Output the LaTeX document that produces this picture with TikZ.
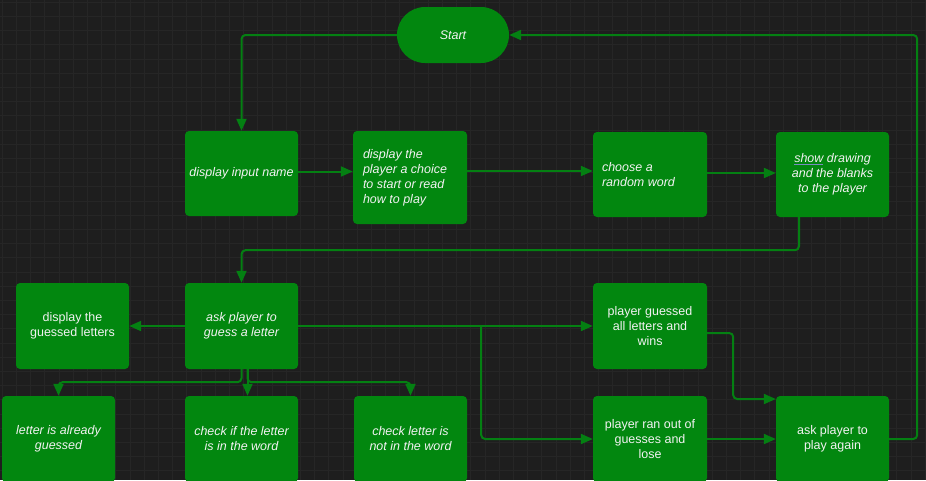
\documentclass[tikz,border=0pt]{standalone}
\usepackage{fontspec}
\setmainfont{Liberation Sans}
\usetikzlibrary{arrows.meta}
\definecolor{bgcol}{RGB}{30,30,30}
\definecolor{gridcol}{RGB}{38,38,38}
\definecolor{boxgreen}{RGB}{2,135,15}
\definecolor{linegreen}{RGB}{4,128,18}
\definecolor{txtcol}{RGB}{242,242,242}
\definecolor{ulcol}{RGB}{120,140,190}
\tikzset{
  box/.style={draw=none, fill=boxgreen, rounded corners=4pt, minimum width=113pt,
    minimum height=86pt, inner sep=0pt, text=txtcol, align=center,
    font=\fontsize{12.5}{15}\selectfont},
  itbox/.style={box, font=\fontsize{12.5}{15}\selectfont\itshape},
  leftbox/.style={itbox, align=flush left, text width=94pt, inner xsep=10pt},
  conn/.style={draw=linegreen, line width=2pt, rounded corners=4pt,
    -{Triangle[length=12pt,width=10pt]}},
}
\begin{document}
\begin{tikzpicture}[x=1pt,y=-1pt]
\useasboundingbox (0,0) rectangle (926,480);
\fill[bgcol] (0,0) rectangle (926,480);
\foreach \i in {0,...,65} {
  \draw[gridcol, line width=0.6pt] ({2+14.2*\i},0) -- ({2+14.2*\i},480);
}
\foreach \i in {0,...,34} {
  \draw[gridcol, line width=0.6pt] (0,{2+14.2*\i}) -- (926,{2+14.2*\i});
}
% nodes
\node[itbox, minimum width=112pt, minimum height=56pt, rounded corners=28pt] (start) at (453,35) {Start};
\node[itbox, minimum height=85pt] (din) at (241.5,173.5) {display input name};
\node[leftbox, minimum width=114pt, minimum height=93pt] (dch) at (410,177.5) {display the\\player a choice\\to start or read\\how to play};
\node[leftbox, minimum width=114pt, minimum height=85pt, text width=96pt, inner xsep=9pt] (crw) at (650,174.5) {choose a\\random word};
\node[itbox, minimum height=85pt] (shw) at (832.5,174.5) {{\color{ulcol}\underline{\color{txtcol}show}} drawing\\and the blanks\\to the player};
\node[box] (dgl) at (72.5,326) {display the\\guessed letters};
\node[itbox] (ask) at (241.5,326) {ask player to\\guess a letter};
\node[box, minimum width=114pt] (pgw) at (650,326) {player guessed\\all letters and\\wins};
\node[itbox] (lag) at (58.5,439) {letter is already\\guessed};
\node[itbox] (cif) at (241.5,439) {check if the letter\\is in the word};
\node[itbox] (cnw) at (410.5,439) {check letter is\\not in the word};
\node[box, minimum width=114pt] (pro) at (650,439) {player ran out of\\guesses and\\lose};
\node[box] (apa) at (832.5,439) {ask player to\\play again};
% connectors
\draw[conn] (start.west) -| (din.north);
\draw[conn] ([yshift=2pt]din.east) -- ([yshift=2pt]din.east -| dch.west);
\draw[conn] ([yshift=6.5pt]dch.east) -- ([yshift=6.5pt]dch.east -| crw.west);
\draw[conn] ([yshift=1.5pt]crw.east) -- ([yshift=1.5pt]crw.east -| shw.west);
\draw[conn] ([xshift=-33.5pt]shw.south) -- ++(0,33) -| (ask.north);
\draw[conn] (ask.west) -- (dgl.east);
\draw[conn] (ask.east) -- (pgw.west);
\draw[conn] ([xshift=183pt]ask.east) |- (pro.west);
\draw[conn] (ask.south) -- ++(0,13) -| (lag.north);
\draw[conn] ([xshift=6pt]ask.south) -- ([xshift=6pt]cif.north);
\draw[conn] ([xshift=6pt]ask.south) -- ++(0,13) -| (cnw.north);
\draw[conn] ([yshift=-7pt]pgw.east) -- ++(26,0) |- ([yshift=40pt]apa.west);
\draw[conn] (pro.east) -- (apa.west);
\draw[conn] (apa.east) -- ++(28,0) |- (start.east);
\end{tikzpicture}
\end{document}
